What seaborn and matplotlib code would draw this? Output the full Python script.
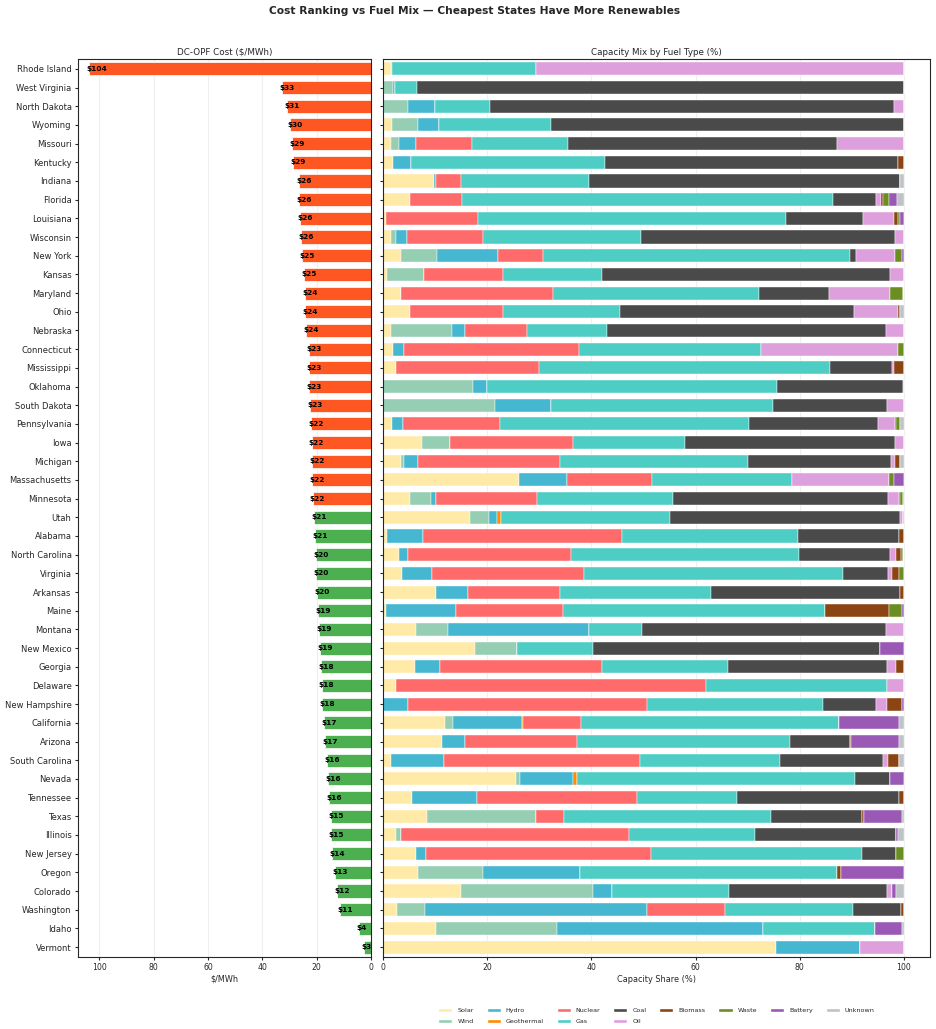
import numpy as np
import pandas as pd
import seaborn as sns
import matplotlib.pyplot as plt
from matplotlib.patches import Patch

states = ['Rhode Island', 'West Virginia', 'North Dakota', 'Wyoming', 'Missouri', 'Kentucky',
          'Indiana', 'Florida', 'Louisiana', 'Wisconsin', 'New York', 'Kansas', 'Maryland',
          'Ohio', 'Nebraska', 'Connecticut', 'Mississippi', 'Oklahoma', 'South Dakota',
          'Pennsylvania', 'Iowa', 'Michigan', 'Massachusetts', 'Minnesota', 'Utah', 'Alabama',
          'North Carolina', 'Virginia', 'Arkansas', 'Maine', 'Montana', 'New Mexico', 'Georgia',
          'Delaware', 'New Hampshire', 'California', 'Arizona', 'South Carolina', 'Nevada',
          'Tennessee', 'Texas', 'Illinois', 'New Jersey', 'Oregon', 'Colorado', 'Washington',
          'Idaho', 'Vermont']

cost = [103.7, 32.7, 31.0, 29.8, 29.2, 28.8, 26.5, 26.4, 26.2, 25.8, 25.3, 24.6, 24.3,
        24.2, 23.9, 22.9, 22.8, 22.7, 22.6, 22.0, 21.9, 21.8, 21.6, 21.55, 21.0, 20.6,
        20.4, 20.2, 19.8, 19.4, 19.2, 18.7, 18.3, 18.2, 18.0, 17.3, 16.8, 16.1, 15.9,
        15.6, 14.8, 14.6, 14.4, 13.4, 12.4, 11.4, 4.4, 2.6]

solar = [1.5, 0, 0, 1.7, 1.5, 1.9, 9.8, 5.1, 0.5, 1.5, 3.4, 0.7, 3.4, 5.1, 1.6, 2.0, 2.5, 0, 0,
         1.8, 7.4, 3.4, 26.2, 5.1, 16.7, 0.8, 3.1, 3.7, 10.2, 0.5, 6.3, 17.7, 6.1, 2.5, 0, 12.0,
         11.3, 1.5, 25.6, 5.5, 8.4, 2.6, 6.4, 6.7, 15.0, 2.7, 10.2, 75.5]
wind = [0.3, 2.0, 4.8, 5.1, 1.5, 0, 0, 0, 0, 1.0, 6.9, 7.1, 0, 0, 11.6, 0, 0, 17.3, 21.6,
        0, 5.4, 0.7, 0, 4.2, 3.6, 0, 0, 0, 0, 0, 6.2, 8.1, 0, 0, 0, 1.5,
        0, 0, 0.8, 0, 21.0, 0.8, 0, 12.5, 25.4, 5.3, 23.2, 0]
hydro = [0, 0.3, 5.2, 4.0, 3.3, 3.4, 0.3, 0, 0, 2.2, 11.7, 0, 0, 0, 2.5, 2.0, 0, 2.6, 10.7,
         2.0, 0, 2.7, 9.2, 0.8, 1.6, 6.8, 1.7, 5.7, 6.1, 13.6, 27.0, 0, 4.9, 0, 4.9, 13.1,
         4.5, 10.2, 10.1, 12.6, 0, 0, 1.8, 18.7, 3.6, 42.6, 39.6, 16.1]
geothermal = [0, 0, 0, 0, 0, 0, 0, 0, 0, 0, 0, 0, 0, 0, 0, 0, 0, 0, 0,
              0, 0, 0, 0, 0, 0.8, 0, 0, 0, 0, 0, 0, 0, 0, 0, 0, 0.3,
              0, 0, 0.7, 0, 0, 0, 0, 0, 0, 0, 0, 0]
nuclear = [0, 0, 0, 0, 10.7, 0, 4.8, 10.0, 17.7, 14.5, 8.7, 15.2, 29.3, 17.9, 11.9, 33.7, 27.4, 0, 0,
           18.6, 23.6, 27.2, 16.2, 19.4, 0, 38.2, 31.3, 29.1, 17.7, 20.5, 0, 0, 31.0, 59.6, 45.7, 11.1,
           21.4, 37.6, 0, 30.7, 5.3, 43.8, 43.2, 0, 0, 15.0, 0, 0]
gas = [27.5, 4.3, 10.6, 21.5, 18.5, 37.4, 24.6, 71.3, 59.1, 30.3, 58.9, 19.0, 39.5, 22.5, 15.4, 34.9, 56.0, 55.8, 42.6,
       47.9, 21.6, 36.0, 27.0, 26.2, 32.4, 33.9, 43.8, 49.8, 28.9, 50.3, 10.3, 14.6, 24.3, 34.7, 33.9, 49.5,
       40.9, 27.0, 53.5, 19.1, 39.8, 24.2, 40.6, 49.3, 22.4, 24.6, 21.4, 0]
coal = [0, 93.4, 77.5, 67.7, 51.7, 56.1, 59.7, 8.2, 14.9, 48.8, 1.2, 55.4, 13.5, 45.0, 53.5, 0, 11.9, 24.1, 21.9,
        24.7, 40.3, 27.6, 0, 41.2, 44.1, 19.4, 17.5, 8.7, 36.3, 0, 46.8, 55.0, 30.5, 0, 10.2, 0,
        11.5, 19.6, 6.7, 31.2, 17.5, 27.0, 6.4, 0, 30.3, 9.2, 0, 0]
oil = [70.7, 0, 1.9, 0, 12.8, 0, 0, 1.0, 5.9, 1.8, 7.4, 2.7, 11.7, 8.4, 3.5, 26.2, 0.2, 0.2, 3.2,
       3.2, 1.7, 0.7, 18.5, 2.1, 0.6, 0, 1.0, 0.7, 0.1, 0, 3.4, 0, 1.7, 3.2, 2.1, 0.1,
       0, 1.1, 0, 0, 0, 0, 0, 0, 1.1, 0, 0, 8.4]
biomass = [0, 0, 0, 0, 0, 1.2, 0, 0.4, 0.7, 0, 0, 0, 0, 0.3, 0, 0, 2.0, 0, 0,
           0.3, 0, 0.9, 0, 0.3, 0, 0.9, 1.1, 1.3, 0.7, 12.3, 0, 0, 1.5, 0, 2.8, 0,
           0.3, 2.1, 0, 0.9, 0.3, 0, 0, 0.7, 0, 0.6, 0, 0]
waste = [0, 0, 0, 0, 0, 0, 0, 1.2, 0.4, 0, 1.5, 0, 2.5, 0, 0, 1.2, 0, 0, 0,
         0.7, 0, 0, 1.0, 0.5, 0, 0, 0.4, 1.1, 0, 2.5, 0, 0, 0, 0, 0, 0,
         0, 0, 0, 0, 0, 0, 1.6, 0, 0, 0, 0, 0]
battery = [0, 0, 0, 0, 0, 0, 0, 1.4, 0.8, 0, 0.4, 0, 0, 0, 0, 0, 0, 0, 0,
           0, 0, 0, 1.9, 0, 0, 0, 0, 0, 0, 0.4, 0, 4.7, 0, 0, 0.4, 11.5,
           9.2, 0, 2.6, 0, 7.4, 0.5, 0, 12.1, 0.7, 0, 5.3, 0]
unknown = [0, 0, 0, 0, 0, 0, 0.8, 1.4, 0, 0, 0, 0, 0, 0.8, 0, 0, 0, 0, 0,
           0.8, 0, 0.8, 0, 0.2, 0.2, 0, 0, 0, 0, 0, 0, 0, 0, 0, 0, 0.9,
           0.9, 0.9, 0, 0, 0.3, 1.1, 0, 0, 1.5, 0, 0.3, 0]

fuels = ['Solar', 'Wind', 'Hydro', 'Geothermal', 'Nuclear', 'Gas', 'Coal', 'Oil',
         'Biomass', 'Waste', 'Battery', 'Unknown']
fuel_colors = ['#FFEAA7', '#96CEB4', '#45B7D1', '#FF8C00', '#FF6B6B', '#4ECDC4', '#4A4A4A',
               '#DDA0DD', '#8B4513', '#6B8E23', '#9B59B6', '#BDC3C7']

mix = pd.DataFrame({'Solar': solar, 'Wind': wind, 'Hydro': hydro, 'Geothermal': geothermal,
                    'Nuclear': nuclear, 'Gas': gas, 'Coal': coal, 'Oil': oil, 'Biomass': biomass,
                    'Waste': waste, 'Battery': battery, 'Unknown': unknown}, index=states)

sns.set_style('ticks')
plt.rcParams['font.family'] = ['DejaVu Sans']

fig = plt.figure(figsize=(9.37, 10.29), dpi=100)
ax1 = fig.add_axes([0.083, 0.070, 0.313, 0.8727])
ax2 = fig.add_axes([0.4087, 0.070, 0.5838, 0.8727])

# left: cost ranking
med = np.median(cost)
bar_cols = ['#FF5722' if c > med else '#4CAF50' for c in cost]
sns.barplot(x=cost, y=states, hue=states, palette=bar_cols, legend=False, orient='h',
            width=0.7, saturation=1, edgecolor='white', linewidth=0.5, ax=ax1)
for i, c in enumerate(cost):
    ax1.text(c + 1, i, f'${c:.0f}', va='center', ha='left', fontsize=5.3,
             fontweight='bold', color='black')
ax1.set_xlim(108, 0)
ax1.set_ylim(47.53, -0.53)
ax1.set_title('DC-OPF Cost ($/MWh)', fontsize=6.3, pad=3)
ax1.set_xlabel('$/MWh', fontsize=5.9, labelpad=2)
ax1.set_ylabel('')
ax1.tick_params(axis='y', labelsize=6.0, length=2.5, pad=2)
ax1.tick_params(axis='x', labelsize=5.6, length=2.5, pad=2)
ax1.grid(axis='x', alpha=0.3)
ax1.set_axisbelow(True)

# right: stacked fuel mix
ypos = np.arange(len(states))
left = np.zeros(len(states))
for f, col in zip(fuels, fuel_colors):
    ax2.barh(ypos, mix[f].values, left=left, height=0.7, color=col,
             edgecolor='white', linewidth=0.3)
    left += mix[f].values
ax2.set_xlim(0, 105)
ax2.set_ylim(47.53, -0.53)
ax2.set_yticks(ypos)
ax2.tick_params(axis='y', labelleft=False, length=2.5)
ax2.tick_params(axis='x', labelsize=5.6, length=2.5, pad=2)
ax2.set_title('Capacity Mix by Fuel Type (%)', fontsize=6.3, pad=3)
ax2.set_xlabel('Capacity Share (%)', fontsize=5.9, labelpad=2)
ax2.grid(axis='x', alpha=0.3)
ax2.set_axisbelow(True)

handles = [Patch(facecolor=c, label=f) for f, c in zip(fuels, fuel_colors)]
ax2.legend(handles=handles, loc='upper center', bbox_to_anchor=(0.5, -0.05), ncol=8,
           frameon=False, fontsize=4.6, handlelength=2.2, handleheight=0.75,
           columnspacing=2.0, labelspacing=0.85)

fig.suptitle('Cost Ranking vs Fuel Mix — Cheapest States Have More Renewables',
             fontsize=7.7, fontweight='bold', x=0.507, y=0.994)

fig.savefig('out.png', dpi=100)
